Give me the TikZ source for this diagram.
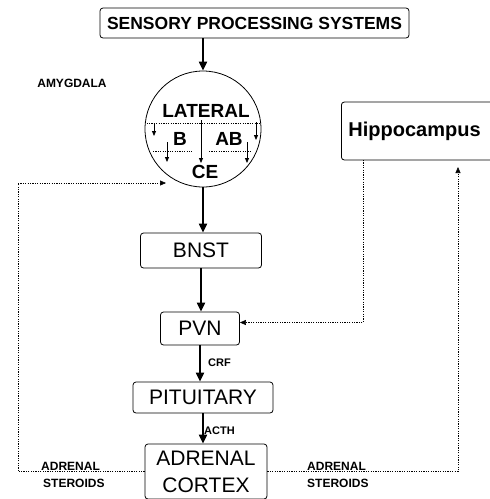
\documentclass[tikz,border=0pt]{standalone}
\usepackage{fontspec}
\setmainfont{Liberation Sans}
\usetikzlibrary{arrows.meta}
\begin{document}
\begin{tikzpicture}[x=1pt,y=-1pt,
  box/.style={draw,rounded corners=3pt,line width=0.8pt,inner sep=0pt},
  reg/.style={font=\fontsize{21}{27}\selectfont},
  bold/.style={font=\bfseries\fontsize{19}{19}\selectfont},
  small/.style={font=\bfseries\fontsize{12}{16.5}\selectfont,align=left,inner sep=0pt},
  lab/.style={font=\bfseries\fontsize{11}{11}\selectfont,inner sep=0pt},
  main/.style={line width=2pt,-{Triangle[length=9pt,width=8pt]}},
  thin/.style={line width=0.8pt,-{Triangle[length=5pt,width=4pt]}},
  fb/.style={dash pattern=on 1.2pt off 1.2pt,line width=0.6pt},
  fbarr/.style={fb,-{Triangle[length=6pt,width=5pt]}}]
\clip (0,0) rectangle (490,499);
\useasboundingbox (0,0) rectangle (490,499);
% nodes
\node[box,minimum width=309,minimum height=30,font=\bfseries\fontsize{17.5}{18}\selectfont] (sps) at (254.5,23) {SENSORY PROCESSING SYSTEMS};
\node[draw,circle,line width=0.8pt,minimum size=116,inner sep=0] (amy) at (203,129) {};
\node[bold] (lat) at (206,111) {LATERAL};
\node[bold] (b) at (180,139) {B};
\node[bold] (ab) at (229,139) {AB};
\node[bold] (ce) at (205,172) {CE};
\node[small] (amyl) at (72,83) {AMYGDALA};
\node[box,anchor=west,minimum height=58,text width=150,align=left,inner xsep=7pt,font=\bfseries\fontsize{20}{20}\selectfont] (hip) at (341,131) {Hippocampus};
\node[box,minimum width=121,minimum height=35,reg] (bnst) at (201,250.5) {BNST};
\node[box,minimum width=79,minimum height=33,reg] (pvn) at (200,328.5) {PVN};
\node[box,minimum width=140,minimum height=31,reg] (pit) at (203,397.5) {PITUITARY};
\node[box,minimum width=122,minimum height=55,reg,align=center] (adr) at (206,471.5) {ADRENAL\\CORTEX};
\node[lab,anchor=west] (crf) at (208,363) {CRF};
\node[lab,anchor=west] (acth) at (204,431) {ACTH};
\node[small,anchor=west] (as1) at (41,475) {ADRENAL\\\hspace*{2pt}STEROIDS};
\node[small,anchor=west] (as2) at (307,475) {ADRENAL\\STEROIDS};
% internal divisions of the amygdala
\draw[fb] (146.5,123) -- (259.5,123);
\draw[fb] (153,151) -- (192,151);
\draw[fb] (209,151) -- (252,151);
\draw[thin] (154,124) -- (154,136);
\draw[thin] (167,142) -- (167,162);
\draw[thin] (201,120) -- (201,163);
\draw[thin] (256,122) -- (256,140);
\draw[thin] (247,142) -- (247,163);
% main pathway
\draw[main] (amy.north |- sps.south) -- (amy.north);
\draw[main] (amy.south) -- (amy.south |- bnst.north);
\draw[main] (bnst.south) -- (bnst.south |- pvn.north);
\draw[main] (pvn.south) -- (pvn.south |- pit.north);
\draw[main] (pit.south) -- (pit.south |- adr.north);
% feedback
\coordinate (fl) at (18,183);
\coordinate (ceIn) at (166,183);
\coordinate (hipArr) at (458,167);
\coordinate (hipOut) at (363,160);
\draw[fbarr] (adr.west) -| (fl) -- (ceIn);
\draw[fbarr] (adr.east) -| (hipArr);
\draw[fbarr] (hipOut) |- ([yshift=6pt]pvn.east);
\end{tikzpicture}
\end{document}
